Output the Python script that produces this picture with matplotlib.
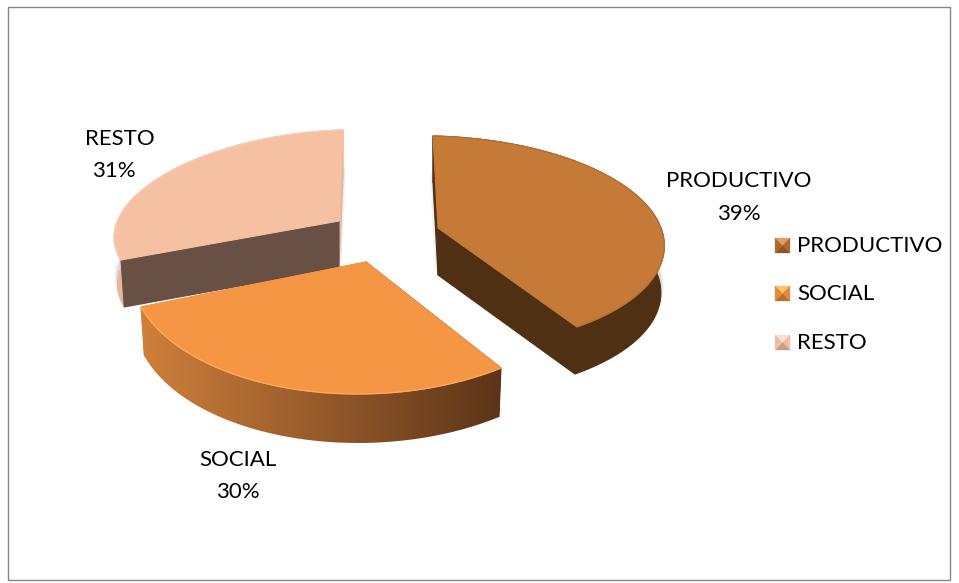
"""Exploded 3D-look pie of budget shares, drawn on a pixel-sized canvas."""
import numpy as np
import matplotlib
matplotlib.use("Agg")
import matplotlib.pyplot as plt
from matplotlib.colors import LinearSegmentedColormap
from matplotlib.patches import Polygon, Rectangle

categories = ["PRODUCTIVO", "SOCIAL", "RESTO"]
shares = [39, 30, 31]

W, H = 959, 583
FONT = "Lato"
FONT_SIZE = 16

# Per-slice geometry: pie centre, the two radial edges and extrusion height.
# ELLIPSE_SHIFT moves the ellipse centre off the apex to account for perspective.
CENTRES = [(438, 228), (366, 262), (339, 221)]
EDGE_START = [(-5, -92), (135, 106), (-218, 39)]
EDGE_END = [(139, 99), (-225, 45), (4, -91)]
ELLIPSE_SHIFT = [(-8, 14), (0, 3), (-20, 0)]
DEPTHS = [47, 49, 47]

TOP_COLORS = ["#C67A38", "#F59644", "#F6C0A3"]
RIM_COLORS = ["#A9652B", "#FFAE5C", "#FAD0B8"]
RIM_ALPHA = [0.45, 0.8, 0.6]
ARC_WALLS = [("#4F3013", "#4F3013"), ("#CF803B", "#5C3418"), ("#E9B79A", "#E9B79A")]
START_WALLS = ["#4F3013", "#5C3418", "#685044"]
END_WALLS = ["#4F3013", "#CF803B", "#E9B79A"]
# The resto slice shows its cut face in front of the rim
START_WALL_IN_FRONT = [False, False, True]
LEGEND_SHADES = [("#E0A060", "#B06A2C", "#8E5422"),
                 ("#FFC070", "#E08A3A", "#B86E2C"),
                 ("#FBE0D0", "#EDBFA5", "#C99C85")]

LABEL_XY = [((739, 181), (739, 214)), ((238, 460), (238, 492)), ((120, 139), (114, 171))]
LEGEND_Y = [246, 294, 343]


def arc_points(centre, u, v, shift, share, n=120):
    # Elliptical arc between the two radial edges; the sweep comes from the share
    sweep = np.radians(share / sum(shares) * 360)
    t = np.linspace(0, sweep, n)
    d = np.array(shift, float)
    u, v = np.array(u, float) - d, np.array(v, float) - d
    pts = (np.outer(np.sin(sweep - t), u) + np.outer(np.sin(t), v)) / np.sin(sweep)
    return pts + np.array(centre, float) + d


def drop(pts, centre, depth):
    # Lower face of the slab, very slightly narrower than the top
    out = np.array(pts, float)
    out[:, 0] = centre[0] + (out[:, 0] - centre[0]) * 0.985
    out[:, 1] += depth
    return out


def wall(ax, a, b, centre, depth, color, z):
    quad = np.vstack([a, b, drop(np.array([b, a]), centre, depth)])
    ax.add_patch(Polygon(quad, closed=True, facecolor=color, edgecolor=color,
                         linewidth=0.8, zorder=z))


def draw_slice(ax, i, z):
    centre = np.array(CENTRES[i], float)
    depth = DEPTHS[i]
    arc = arc_points(centre, EDGE_START[i], EDGE_END[i], ELLIPSE_SHIFT[i], shares[i])
    outline = np.vstack([centre, arc])

    # Faint contact shadow hugging the foot of the slab
    shadow = drop(outline, centre, depth - 7)
    for lw, alpha in [(5, 0.03), (3, 0.05), (1.5, 0.07)]:
        ax.add_patch(Polygon(shadow, closed=True, facecolor="none", edgecolor="black",
                             linewidth=lw, alpha=alpha, joinstyle="round", zorder=z))

    start_z = z + 0.25 if START_WALL_IN_FRONT[i] else z + 0.1
    wall(ax, centre, arc[0], centre, depth, START_WALLS[i], start_z)
    wall(ax, centre, arc[-1], centre, depth, END_WALLS[i], z + 0.1)

    band = np.vstack([arc, drop(arc, centre, depth)[::-1]])
    left, right = ARC_WALLS[i]
    if left == right:
        ax.add_patch(Polygon(band, closed=True, facecolor=left, edgecolor=left,
                             linewidth=0.8, zorder=z + 0.2))
    else:
        # Shaded rim: a horizontal gradient clipped to the band under the arc
        cmap = LinearSegmentedColormap.from_list("rim", [left, right])
        clip = Polygon(band, closed=True, transform=ax.transData)
        x0, x1 = band[:, 0].min(), band[:, 0].max()
        y0, y1 = band[:, 1].min(), band[:, 1].max()
        im = ax.imshow(np.linspace(0, 1, 256).reshape(1, -1), cmap=cmap, aspect="auto",
                       extent=(x0, x1, y1, y0), zorder=z + 0.2)
        im.set_clip_path(clip)

    ax.add_patch(Polygon(outline, closed=True, facecolor=TOP_COLORS[i],
                         edgecolor=TOP_COLORS[i], linewidth=0.8, zorder=z + 0.3))
    ax.plot(arc[:, 0], arc[:, 1], color=RIM_COLORS[i], linewidth=1.0, alpha=RIM_ALPHA[i],
            solid_capstyle="round", zorder=z + 0.4)


def legend_key(ax, x, y, shades, size=15):
    # Small bevelled square: light top, mid sides, dark bottom
    light, mid, dark = shades
    c = (x + size / 2, y + size / 2)
    tl, tr, br, bl = (x, y), (x + size, y), (x + size, y + size), (x, y + size)
    for pts, color in [((tl, tr, c), light), ((tr, br, c), mid),
                       ((br, bl, c), dark), ((bl, tl, c), mid)]:
        ax.add_patch(Polygon(pts, closed=True, facecolor=color, edgecolor=color,
                             linewidth=0.2, zorder=5))


fig = plt.figure(figsize=(W / 100, H / 100), dpi=100)
ax = fig.add_axes([0, 0, 1, 1])
ax.axis("off")

ax.add_patch(Rectangle((8, 7), 942, 573, facecolor="white", edgecolor="#868686",
                       linewidth=1.0, zorder=0))

# Back to front so the social slice covers the foot of the resto wall
for z, i in zip([1, 2, 3], [2, 1, 0]):
    draw_slice(ax, i, z)

for i, name in enumerate(categories):
    (nx, ny), (px, py) = LABEL_XY[i]
    ax.text(nx, ny, name, ha="center", va="center", fontsize=FONT_SIZE, family=FONT,
            color="black", zorder=6)
    ax.text(px, py, f"{shares[i]}%", ha="center", va="center", fontsize=FONT_SIZE,
            family=FONT, color="black", zorder=6)
    legend_key(ax, 775, LEGEND_Y[i] - 8, LEGEND_SHADES[i])
    ax.text(797, LEGEND_Y[i], name, ha="left", va="center", fontsize=FONT_SIZE,
            family=FONT, color="black", zorder=6)

# imshow resets the limits, so the pixel canvas is fixed last
ax.set_xlim(0, W)
ax.set_ylim(H, 0)

fig.savefig("out.png", dpi=100)
